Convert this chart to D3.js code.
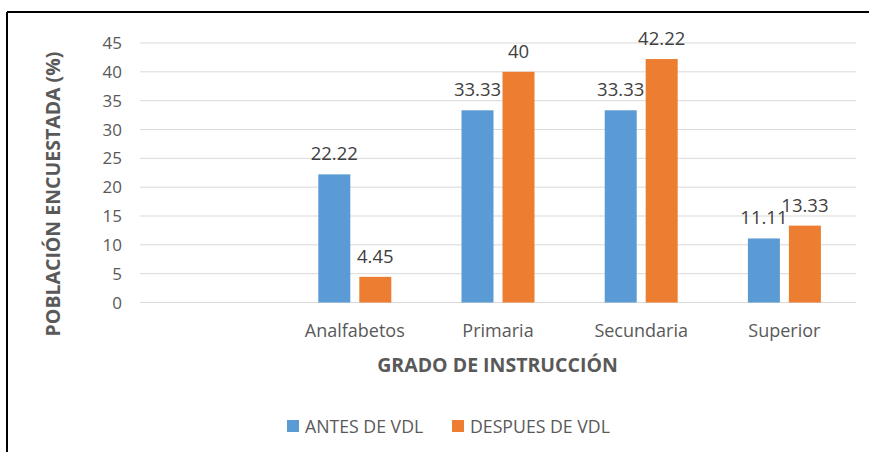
<!DOCTYPE html>
<html>
<head>
<meta charset="utf-8">
<script src="https://cdn.jsdelivr.net/npm/d3@7"></script>
<style>
  body { margin: 0; background: #fff; }
  svg { display: block; font-family: "Open Sans", sans-serif; }
</style>
</head>
<body>
<svg id="chart" width="869" height="452"></svg>
<script>
const categories = ['', 'Analfabetos', 'Primaria', 'Secundaria', 'Superior'];
const antes = [null, 22.22, 33.33, 33.33, 11.11];
const despues = [null, 4.45, 40, 42.22, 13.33];
const antesLabels = ['', '22.22', '33.33', '33.33', '11.11'];
const despuesLabels = ['', '4.45', '40', '42.22', '13.33'];
const yTicks = [0, 5, 10, 15, 20, 25, 30, 35, 40, 45];
const seriesNames = ['ANTES DE VDL', 'DESPUES DE VDL'];
const colors = ['#5b9bd5', '#ed7d31'];

const svg = d3.select('#chart');

// frame (only top and left edges are visible in the crop)
svg.append('line').attr('x1', 7).attr('y1', 12).attr('x2', 869).attr('y2', 12)
  .attr('stroke', '#000').attr('stroke-width', 2);
svg.append('line').attr('x1', 7).attr('y1', 12).attr('x2', 7).attr('y2', 452)
  .attr('stroke', '#000').attr('stroke-width', 2);

const x = d3.scaleBand().domain(d3.range(categories.length)).range([140, 856]);
const y = d3.scaleLinear().domain([0, 45]).range([302.5, 43]);

const barW = 32, gap = 9;

// gridlines
svg.append('g').selectAll('line').data(yTicks).enter().append('line')
  .attr('x1', 140).attr('x2', 856)
  .attr('y1', d => y(d)).attr('y2', d => y(d))
  .attr('stroke', '#d9d9d9').attr('stroke-width', 1);

// y tick labels
svg.append('g').selectAll('text').data(yTicks).enter().append('text')
  .attr('x', 122).attr('y', d => y(d) + 6)
  .attr('text-anchor', 'end').attr('fill', '#595959').attr('font-size', 17)
  .text(d => d);

const series = [antes, despues];
const labels = [antesLabels, despuesLabels];
series.forEach(function(vals, s) {
  const idx = d3.range(categories.length).filter(i => vals[i] != null);
  const bx = i => x(i) + x.bandwidth() / 2 - barW - gap / 2 + s * (barW + gap);
  svg.append('g').selectAll('rect').data(idx).enter().append('rect')
    .attr('x', bx)
    .attr('y', i => y(vals[i]))
    .attr('width', barW)
    .attr('height', i => y(0) - y(vals[i]))
    .attr('fill', colors[s]);
  svg.append('g').selectAll('text').data(idx).enter().append('text')
    .attr('x', i => bx(i) + barW / 2)
    .attr('y', i => y(vals[i]) - 14)
    .attr('text-anchor', 'middle').attr('fill', '#404040').attr('font-size', 18.5)
    .text(i => labels[s][i]);
});

// x category labels
svg.append('g').selectAll('text').data(d3.range(categories.length)).enter().append('text')
  .attr('x', i => x(i) + x.bandwidth() / 2).attr('y', 337)
  .attr('text-anchor', 'middle').attr('fill', '#595959').attr('font-size', 18)
  .text(i => categories[i]);

// axis titles
svg.append('text').attr('x', 497.5).attr('y', 372)
  .attr('text-anchor', 'middle').attr('fill', '#595959')
  .attr('font-size', 19.5).attr('font-weight', 'bold')
  .text('GRADO DE INSTRUCCIÓN');
svg.append('text').attr('transform', 'translate(60,194) rotate(-90)')
  .attr('text-anchor', 'middle').attr('fill', '#595959')
  .attr('font-size', 19.5).attr('font-weight', 'bold')
  .text('POBLACIÓN ENCUESTADA (%)');

// legend
const legendX = [287, 452];
const legend = svg.append('g').selectAll('g').data(seriesNames).enter().append('g')
  .attr('transform', (d, i) => 'translate(' + legendX[i] + ',420)');
legend.append('rect').attr('width', 12).attr('height', 12).attr('fill', (d, i) => colors[i]);
legend.append('text').attr('x', 18).attr('y', 12.5)
  .attr('fill', '#595959').attr('font-size', 17.7).text(d => d);
</script>
</body>
</html>
